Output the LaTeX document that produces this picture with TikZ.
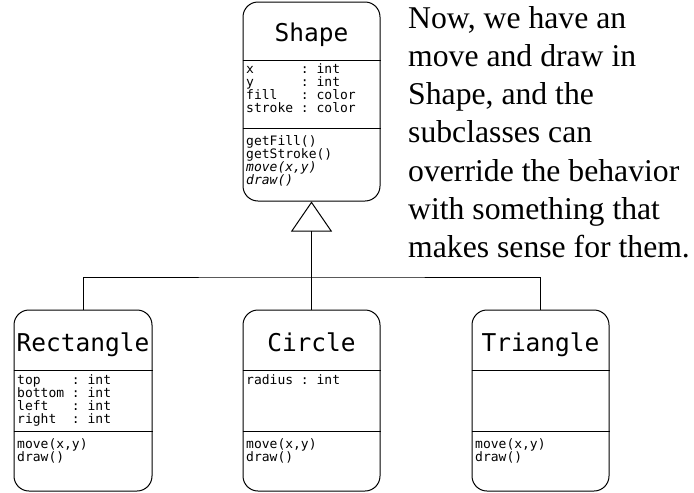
\documentclass[tikz,border=0pt]{standalone}
\usepackage{fontspec}
\setmainfont{Liberation Serif}
\newfontfamily\monofont{DejaVu Sans Mono}
\usetikzlibrary{arrows.meta}
\begin{document}
\begin{tikzpicture}[x=1pt,y=-1pt,
  classbox/.style={draw, line width=1pt, rounded corners=15pt, inner sep=0pt},
  divider/.style={line width=1pt},
  title/.style={font=\monofont\fontsize{24.5}{24}\selectfont, inner sep=0pt, anchor=base},
  members/.style={font=\monofont\fontsize{13}{13}\selectfont, align=left, inner sep=0pt, anchor=north west},
  note/.style={font=\fontsize{31.7}{38}\selectfont, inner sep=0pt, anchor=base west},
  conn/.style={line width=1pt}]
\useasboundingbox (0,0) rectangle (694,493);

% Shape class
\node[classbox, minimum width=137pt, minimum height=199pt] (shape) at (311.5,101.5) {};
\draw[divider] (shape.west |- 0,60) -- (shape.east |- 0,60);
\draw[divider] (shape.west |- 0,128) -- (shape.east |- 0,128);
\node[title] (shapeT) at (311.5,41) {Shape};
\node[members] (shapeA) at (246,63) {x~~~~~~:~int\\y~~~~~~:~int\\fill~~~:~color\\stroke~:~color};
\node[members] (shapeM) at (246,135) {getFill()\\getStroke()\\\itshape move(x,y)\\\itshape draw()};

% Rectangle
\node[classbox, minimum width=138pt, minimum height=181pt] (rect) at (83,400.5) {};
\draw[divider] (rect.west |- 0,370) -- (rect.east |- 0,370);
\draw[divider] (rect.west |- 0,431) -- (rect.east |- 0,431);
\node[title] (rectT) at (83,351) {Rectangle};
\node[members] (rectA) at (17,374) {top~~~~:~int\\bottom~:~int\\left~~~:~int\\right~~:~int};
\node[members] (rectM) at (17,438) {move(x,y)\\draw()};

% Circle
\node[classbox, minimum width=137pt, minimum height=181pt] (circ) at (311.5,400.5) {};
\draw[divider] (circ.west |- 0,370) -- (circ.east |- 0,370);
\draw[divider] (circ.west |- 0,431) -- (circ.east |- 0,431);
\node[title] (circT) at (311.5,351) {Circle};
\node[members] (circA) at (246,374) {radius~:~int};
\node[members] (circM) at (246,438) {move(x,y)\\draw()};

% Triangle
\node[classbox, minimum width=137pt, minimum height=181pt] (tri) at (540.5,400.5) {};
\draw[divider] (tri.west |- 0,370) -- (tri.east |- 0,370);
\draw[divider] (tri.west |- 0,431) -- (tri.east |- 0,431);
\node[title] (triT) at (540.5,351) {Triangle};
\node[members] (triM) at (475,438) {move(x,y)\\draw()};

% Inheritance connectors
\coordinate (junc) at (311.5,277);
\draw[conn] (rect.north) |- (junc) -| (tri.north);
\draw[conn] (circ.north) -- (junc);
\draw[conn, -{Triangle[open, length=30pt, width=41pt, line width=1pt]}] (junc) -- (shape.south);

% Note
\node[note] (n1) at (408,28) {Now, we have an};
\node[note] (n2) at (408,66.3) {move and draw in};
\node[note] (n3) at (408,104.6) {Shape, and the};
\node[note] (n4) at (408,142.9) {subclasses can};
\node[note] (n5) at (408,181.2) {override the behavior};
\node[note] (n6) at (408,219.5) {with something that};
\node[note] (n7) at (408,257.8) {makes sense for them.};
\end{tikzpicture}
\end{document}
